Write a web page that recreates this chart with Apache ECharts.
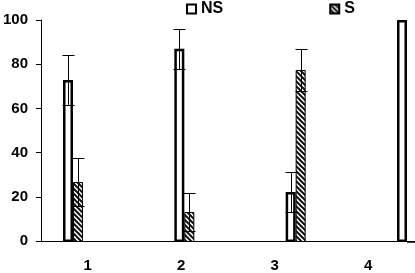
<!DOCTYPE html>
<html><head><meta charset="utf-8">
<script src="https://cdn.jsdelivr.net/npm/echarts@6/dist/echarts.min.js"></script>
<style>html,body{margin:0;padding:0;background:#fff}#c{width:415px;height:273px}</style>
</head><body><div id="c"></div>
<script>
const categories = ['1', '2', '3', '4'];
const nsValues = [73, 87, 22.5, 100];
const nsErrors = [11.3, 9, 9, 0];
const sValues = [27, 13.5, 77.5, 0];
const sErrors = [11, 8.5, 9.5, 0];
const yTicks = [0, 20, 40, 60, 80, 100];

const BAR_W = 10;
const FONT = {fontFamily: 'Arial, "Liberation Sans", sans-serif', fontWeight: 'bold', fontSize: 15, color: '#000'};

function hatch() {
  const c = document.createElement('canvas');
  c.width = 5; c.height = 5;
  const g = c.getContext('2d');
  g.fillStyle = '#fff'; g.fillRect(0, 0, 5, 5);
  g.strokeStyle = '#111'; g.lineWidth = 2;
  g.beginPath();
  g.moveTo(-1, -1); g.lineTo(6, 6);
  g.moveTo(-1, 4); g.lineTo(2, 7);
  g.moveTo(4, -1); g.lineTo(7, 2);
  g.stroke();
  return c;
}
const hatchColor = {image: hatch(), repeat: 'repeat'};

function errSeries(vals, errs, sign) {
  return {
    type: 'custom', xAxisIndex: 1, yAxisIndex: 1, z: 10, silent: true, clip: false,
    data: vals.map((v, i) => [i, v, errs[i]]),
    renderItem(params, api) {
      const i = api.value(0), v = api.value(1), e = api.value(2);
      if (!e) return null;
      const c = api.coord([i, v]);
      const x = Math.round(c[0] + sign * BAR_W / 2) + 0.5;
      const yt = Math.round(api.coord([i, v + e])[1]) + 0.5;
      const yb = Math.round(api.coord([i, v - e])[1]) + 0.5;
      const hw = 6;
      const st = {stroke: '#000', lineWidth: 1};
      return {type: 'group', children: [
        {type: 'line', shape: {x1: x, y1: yt, x2: x, y2: yb}, style: st},
        {type: 'line', shape: {x1: x - hw, y1: yt, x2: x + hw, y2: yt}, style: st},
        {type: 'line', shape: {x1: x - hw, y1: yb, x2: x + hw, y2: yb}, style: st}
      ]};
    }
  };
}

const chart = echarts.init(document.getElementById('c'), null, {renderer: 'canvas'});
chart.setOption({
  animation: false,
  backgroundColor: '#fff',
  legend: {
    data: ['NS', 'S'], left: 186, top: 1, itemWidth: 9, itemHeight: 9, itemGap: 106, itemStyle: {borderWidth: 2},
    icon: 'rect', textStyle: Object.assign({}, FONT, {fontSize: 16}), padding: 0
  },
  grid: [
    {left: 39, right: 0, top: 20, bottom: 31},
    {left: 73, right: 8, top: 20, bottom: 31}
  ],
  xAxis: [
    {type: 'category', gridIndex: 0, data: categories,
     axisLine: {lineStyle: {color: '#000', width: 1}},
     axisTick: {length: 5, lineStyle: {color: '#000'}},
     axisLabel: Object.assign({margin: 17}, FONT)},
    {type: 'category', gridIndex: 1, data: categories, show: false, boundaryGap: false}
  ],
  yAxis: [
    {type: 'value', gridIndex: 0, min: 0, max: 100, interval: 20,
     axisLine: {show: true, lineStyle: {color: '#000', width: 1}},
     axisTick: {show: true, length: 5, lineStyle: {color: '#000'}},
     splitLine: {show: false},
     axisLabel: Object.assign({margin: 13, formatter: v => yTicks.includes(v) ? String(v) : ''}, FONT)},
    {type: 'value', gridIndex: 1, min: 0, max: 100, show: false}
  ],
  series: [
    {name: 'NS', type: 'bar', xAxisIndex: 1, yAxisIndex: 1, data: nsValues, clip: false,
     barWidth: BAR_W, barGap: '0%',
     itemStyle: {color: '#fff', borderColor: '#000', borderWidth: 2.5}},
    {name: 'S', type: 'bar', xAxisIndex: 1, yAxisIndex: 1, data: sValues, clip: false,
     barWidth: BAR_W, barGap: '0%',
     itemStyle: {color: hatchColor, borderColor: '#000', borderWidth: 1}},
    errSeries(nsValues, nsErrors, -1),
    errSeries(sValues, sErrors, 1)
  ]
});
</script></body></html>
